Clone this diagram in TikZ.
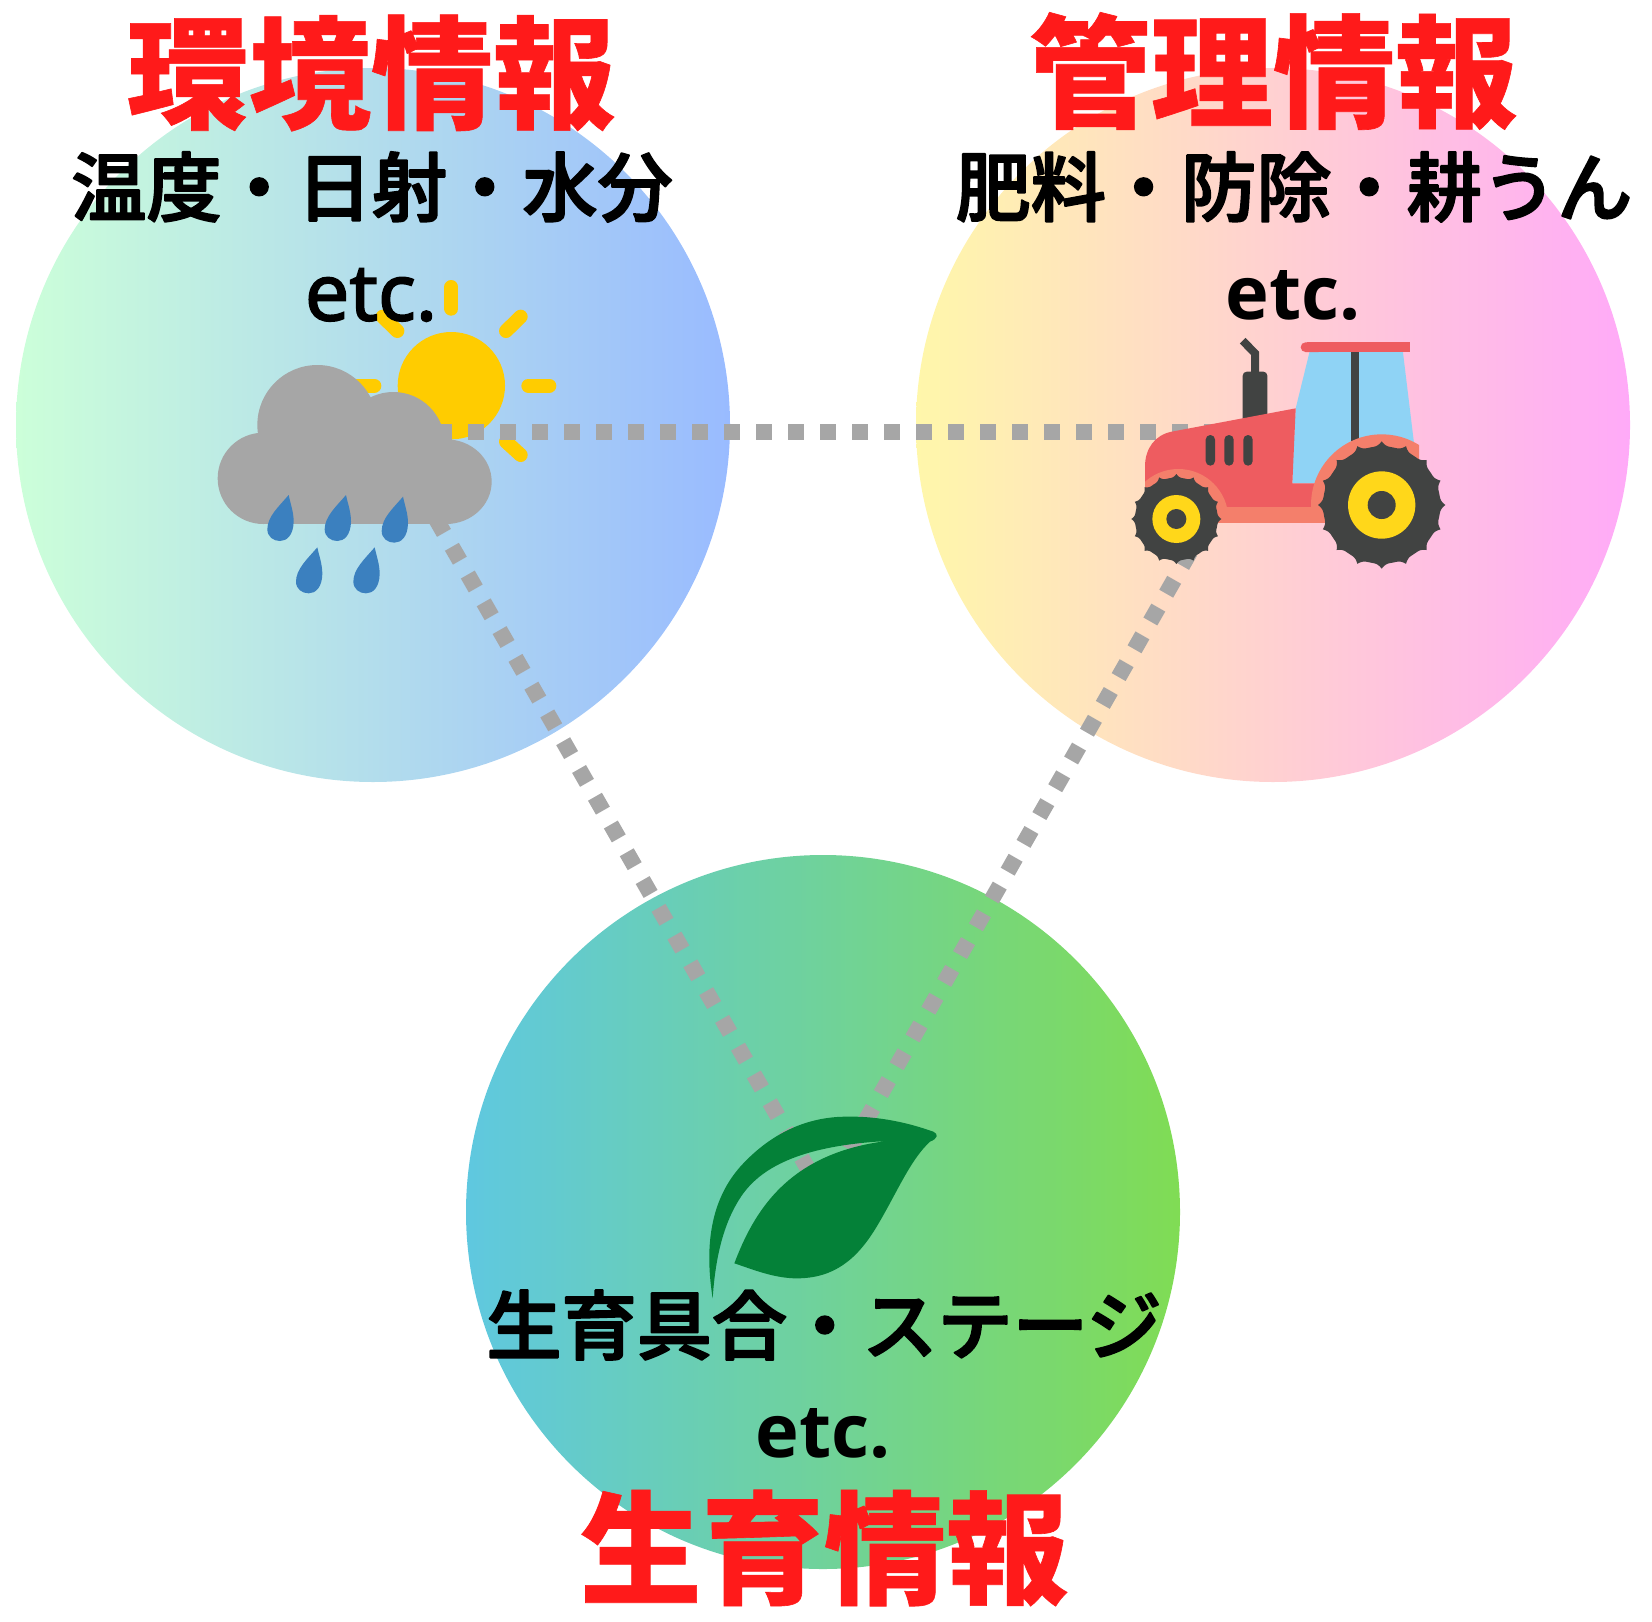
\documentclass[tikz,border=0pt]{standalone}
\usepackage{fontspec}
\newfontfamily\jpblack[FakeBold=0.5]{Noto Sans CJK JP Black}
\newfontfamily\jpbold[FakeBold=2.5]{Noto Sans CJK JP Medium}
\newfontfamily\latinmed[FakeBold=2]{Noto Sans}
\newfontfamily\latinbold{Open Sans}
\definecolor{titlered}{HTML}{FF1A1A}
\definecolor{dotgray}{HTML}{A6A6A6}
\definecolor{sunyellow}{HTML}{FFCC00}
\definecolor{dropblue}{HTML}{3B80BF}
\definecolor{tyredark}{HTML}{414342}
\definecolor{tractorred}{HTML}{EE5C60}
\definecolor{fender}{HTML}{F47F6B}
\definecolor{glass}{HTML}{8FD3F5}
\definecolor{hub}{HTML}{FFD71A}
\definecolor{leafgreen}{HTML}{048138}
\definecolor{aL}{HTML}{CCFFD9}
\definecolor{aR}{HTML}{99BBFF}
\definecolor{bL}{HTML}{FFF7AA}
\definecolor{bR}{HTML}{FFAAF8}
\definecolor{cL}{HTML}{5FC8E0}
\definecolor{cR}{HTML}{80DC54}
\tikzset{
  title/.style={text=titlered,font=\jpblack\fontsize{61.1}{61.1}\selectfont,inner sep=0pt},
  subtitle/.style={text=black,font=\jpbold\fontsize{37.6}{37.6}\selectfont,inner sep=0pt},
  etcmed/.style={text=black,font=\latinmed\fontsize{39.5}{39.5}\selectfont,inner sep=0pt},
  etcbold/.style={text=black,font=\latinbold\bfseries\fontsize{37}{37}\selectfont,inner sep=0pt},
  link/.style={draw=dotgray,line width=8pt,dash pattern=on 8pt off 8pt},
  zoomed/.style={x=0.16667pt,y=-0.16667pt},
  declare function={tread(\t)=(1-abs(sin(8*\t)))*(1-abs(sin(8*\t)));},
}
\begin{document}
\begin{tikzpicture}[x=0.5pt,y=-0.5pt]
\useasboundingbox (0,0) rectangle (1652,1621);
% circles
\shade[left color=aL,right color=aR] (373,425) circle[radius=357];
\shade[left color=bL,right color=bR] (1273,425) circle[radius=357];
\shade[left color=cL,right color=cR] (823,1212) circle[radius=357];
% sun
\begin{scope}[shift={(200,260)},zoomed]
\fill[sunyellow] (754,377) circle[radius=161];
\foreach \a/\b/\c/\d in {754/81/754/146, 985/377/1048/377, 460/377/523/377, 918/213/962/170, 548/170/592/213, 918/545/962/585}
  \draw[sunyellow,line width=7pt,line cap=round] (\a,\b) -- (\c,\d);
\end{scope}
% links
\coordinate (envH) at (436,432);
\coordinate (mgmtH) at (1236,432);
\coordinate (envD) at (436,519);
\coordinate (leafL) at (808,1169);
\coordinate (mgmtD) at (1190,552);
\coordinate (leafR) at (846,1155);
\draw[link] (envH) -- (mgmtH);
\draw[link] (envD) -- (leafL);
\draw[link] (mgmtD) -- (leafR);
% cloud
\begin{scope}[shift={(200,260)},zoomed]
\fill[dotgray] (352,495) circle[radius=180];
\fill[dotgray] (580,550) circle[radius=154];
\fill[dotgray] (190,655) circle[radius=137];
\fill[dotgray] (738,665) ellipse[x radius=137,y radius=127];
\fill[dotgray] (190,540) rectangle (738,792);
\foreach \tx/\ty in {266/705,438/705,609/710,352/862,524/862}
  \fill[dropblue,shift={(\tx,\ty)}] (0,0) .. controls (-30,35) and (-64,65) .. (-64,103)
    .. controls (-64,125) and (-46,138) .. (-26,138)
    .. controls (-5,138) and (14,120) .. (15,80)
    .. controls (15,50) and (5,25) .. (0,0) -- cycle;
\end{scope}
% tractor
\begin{scope}[shift={(1110,320)},zoomed]
\draw[tyredark,line width=4pt] (398,62) -- (435,100) -- (435,170);
\fill[tyredark,rounded corners=2pt] (398,155) rectangle (472,310);
\fill[glass] (600,90) -- (878,90) -- (912,370) -- (700,490) -- (547,490) -- (550,400) -- (557,265) -- cycle;
\fill[tyredark] (723,90) rectangle (747,380);
\fill[tractorred,rounded corners=2.4pt] (572,67) rectangle (640,96);
\fill[tractorred] (590,67) rectangle (900,96);
\fill[tractorred] (105,500) -- (105,440) .. controls (105,385) and (135,345) .. (185,335) -- (557,265) -- (547,490) -- (650,490) -- (650,580) -- (300,580) -- cycle;
\foreach \vx in {287,343,400}
  \fill[tyredark,rounded corners=2.3pt] (\vx,345) rectangle (\vx+28,437);
\begin{scope}
\clip (105,430) rectangle (360,608);
\fill[fender] (205,597) circle[radius=150];
\end{scope}
\begin{scope}
\clip (600,340) rectangle (927,608);
\fill[fender] (815,555) circle[radius=212];
\end{scope}
\fill[fender] (330,561) rectangle (650,608);
\fill[tyredark,shift={(815,555)}] plot[domain=0:360,samples=321,variable=\t] ({(176+15*tread(\t))*cos(\t)},{(176+15*tread(\t))*sin(\t)}) -- cycle;
\fill[hub] (815,555) circle[radius=101];
\fill[tyredark] (815,555) circle[radius=42];
\fill[tyredark,shift={(199,597)}] plot[domain=0:360,samples=321,variable=\t] ({(124+11*tread(\t))*cos(\t)},{(124+11*tread(\t))*sin(\t)}) -- cycle;
\fill[hub] (199,597) circle[radius=72];
\fill[tyredark] (199,597) circle[radius=30];
\end{scope}
% leaf
\begin{scope}[shift={(680,1090)},zoomed]
\fill[leafgreen] (98,625) .. controls (75,480) and (85,330) .. (190,220)
  .. controls (290,115) and (400,80) .. (500,80)
  .. controls (600,78) and (690,100) .. (760,125)
  .. controls (775,132) and (775,145) .. (750,155)
  .. controls (690,210) and (650,310) .. (590,410)
  .. controls (530,510) and (460,565) .. (350,565)
  .. controls (280,565) and (210,535) .. (163,520)
  .. controls (220,370) and (320,190) .. (620,153)
  .. controls (400,165) and (260,215) .. (190,310)
  .. controls (125,400) and (105,520) .. (98,625) -- cycle;
\end{scope}
% text
\node[title] (t1) at (371,73) {環境情報};
\node[title] (t2) at (1273,71) {管理情報};
\node[title] (t3) at (824,1548) {生育情報};
\begin{scope}[line join=round,line cap=round]
\node[subtitle] (s1) at (372,187) {温度・日射・水分};
\node[subtitle] (s2) at (1294,187) {肥料・防除・耕うん};
\node[subtitle] (s3) at (824,1325) {生育具合・ステージ};
\end{scope}
\node[etcmed] (e1) at (371,295) {etc.};
\node[etcbold] (e2) at (1293,295) {etc.};
\node[etcbold] (e3) at (823,1433) {etc.};
\end{tikzpicture}
\end{document}
